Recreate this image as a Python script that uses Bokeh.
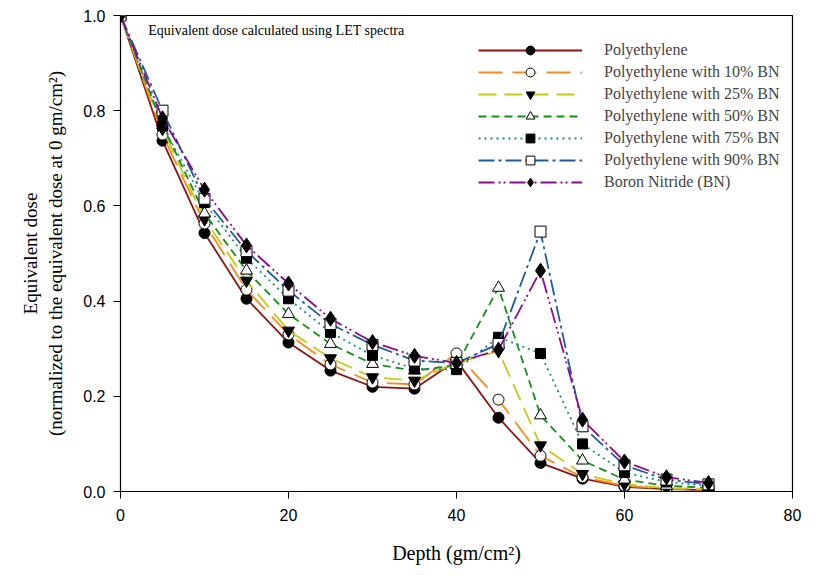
from bokeh.plotting import figure
from bokeh.models import Label, Legend, LegendItem, PrintfTickFormatter, FixedTicker, Range1d
from bokeh.embed import file_html
from bokeh.resources import INLINE

# Depth (gm/cm^2) and normalized equivalent dose per shielding material
depth = [0, 5, 10, 15, 20, 25, 30, 35, 40, 45, 50, 55, 60, 65, 70]
pe    = [1.0, 0.737, 0.543, 0.405, 0.313, 0.254, 0.220, 0.216, 0.275, 0.155, 0.060, 0.027, 0.010, 0.005, 0.003]
pe10  = [1.0, 0.750, 0.563, 0.424, 0.330, 0.267, 0.229, 0.225, 0.290, 0.193, 0.075, 0.030, 0.012, 0.006, 0.004]
pe25  = [1.0, 0.762, 0.572, 0.443, 0.338, 0.280, 0.240, 0.233, 0.270, 0.295, 0.097, 0.037, 0.015, 0.007, 0.005]
pe50  = [1.0, 0.770, 0.584, 0.464, 0.373, 0.310, 0.268, 0.254, 0.265, 0.428, 0.160, 0.065, 0.025, 0.012, 0.008]
pe75  = [1.0, 0.768, 0.607, 0.490, 0.405, 0.334, 0.286, 0.258, 0.256, 0.324, 0.290, 0.100, 0.040, 0.020, 0.012]
pe90  = [1.0, 0.800, 0.615, 0.505, 0.422, 0.352, 0.308, 0.275, 0.270, 0.310, 0.546, 0.137, 0.055, 0.025, 0.015]
bn    = [1.0, 0.784, 0.634, 0.517, 0.437, 0.363, 0.314, 0.285, 0.270, 0.298, 0.464, 0.151, 0.063, 0.030, 0.018]

names = ["Polyethylene", "Polyethylene with 10% BN", "Polyethylene with 25% BN",
         "Polyethylene with 50% BN", "Polyethylene with 75% BN",
         "Polyethylene with 90% BN", "Boron Nitride (BN)"]
series = [pe, pe10, pe25, pe50, pe75, pe90, bn]

x_ticks = [0, 20, 40, 60, 80]
y_ticks = [0.0, 0.2, 0.4, 0.6, 0.8, 1.0]

colors = ["#8B1414", "#F58C1E", "#C8C818", "#16901A", "#1A8C8C", "#1F5C99", "#8C0A8C"]
dashes = ["solid", "24 10", "18 8", "8 5", "2 4", "16 4 3 4", "16 4 2 3 2 4"]
markers = ["circle", "circle", "inverted_triangle", "triangle", "square", "square", "diamond"]
fills = ["black", "white", "black", "white", "black", "white", "black"]
sizes = [11, 11, 12, 12, 10, 11, 15]

SERIF = "Liberation Serif"
SANS = "Liberation Sans"

p = figure(width=814, height=575, output_backend="svg", toolbar_location=None,
           x_range=Range1d(0, 80), y_range=Range1d(0, 1.0),
           min_border_left=120, min_border_right=22, min_border_top=15, min_border_bottom=84)
p.grid.visible = False
p.outline_line_color = "black"
p.outline_line_width = 1.2
p.background_fill_color = "white"
p.border_fill_color = "white"

items = []
for name, ys, c, d, m, f, s in zip(names, series, colors, dashes, markers, fills, sizes):
    ln = p.line(depth, ys, line_color=c, line_width=1.8, line_dash=d)
    sc = p.scatter(depth, ys, marker=m, size=s, fill_color=f, line_color="black", line_width=1)
    items.append(LegendItem(label=name, renderers=[ln, sc]))

legend = Legend(items=items, location=(358, 298), border_line_color=None,
                background_fill_alpha=0, padding=0, margin=0, spacing=0,
                glyph_width=104, glyph_height=22, label_standoff=22,
                label_text_font=SERIF, label_text_font_size="16px", label_height=22)
p.add_layout(legend)

for ax in (p.xaxis[0], p.yaxis[0]):
    ax.major_tick_in = 0
    ax.major_tick_out = 7
    ax.minor_tick_out = 0
    ax.minor_tick_in = 0
    ax.axis_line_color = "black"
    ax.major_tick_line_color = "black"
    ax.major_label_text_font = SANS
    ax.major_label_text_font_size = "16px"
    ax.major_label_text_color = "black"
    ax.axis_label_text_font = SERIF
    ax.axis_label_text_font_style = "normal"
    ax.axis_label_text_color = "black"

p.xaxis.ticker = FixedTicker(ticks=x_ticks)
p.yaxis.ticker = FixedTicker(ticks=y_ticks)
p.yaxis.formatter = PrintfTickFormatter(format="%.1f")
p.xaxis.major_label_standoff = 10
p.yaxis.major_label_standoff = 8

p.xaxis.axis_label = "Depth (gm/cm²)"
p.xaxis.axis_label_text_font_size = "20px"
p.xaxis.axis_label_standoff = 18
p.yaxis.axis_label = "Equivalent dose\n(normalized to the equivalent dose at 0 gm/cm²)"
p.yaxis.axis_label_text_font_size = "19px"
p.yaxis.axis_label_standoff = 14

p.add_layout(Label(x=3.3, y=0.968, text="Equivalent dose calculated using LET spectra",
                   text_font=SERIF, text_font_size="14px", text_baseline="middle",
                   text_color="black"))

open("out.html", "w").write(file_html(p, INLINE))
